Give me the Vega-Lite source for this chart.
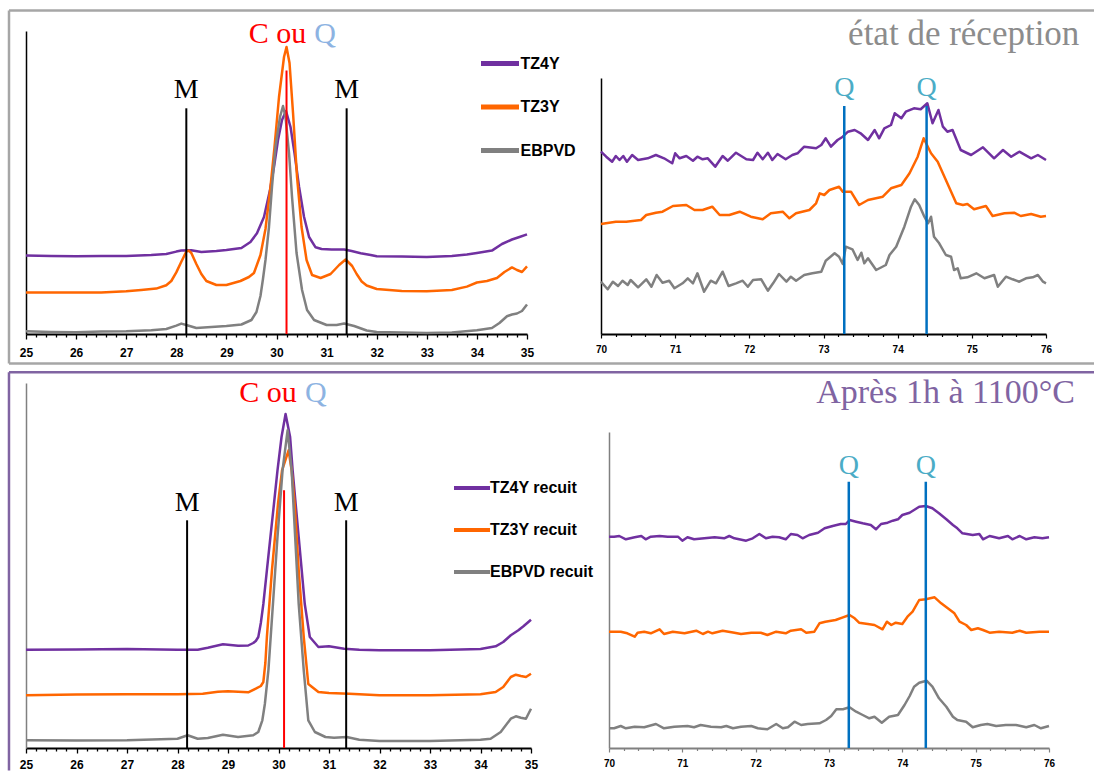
{
  "$schema": "https://vega.github.io/schema/vega-lite/v6.json",
  "background": "white",
  "padding": {"left": 7, "top": 9, "right": 0, "bottom": 0},
  "config": {"view": {"stroke": null}, "font": "Liberation Sans"},
  "columns": 2,
  "align": "each",
  "bounds": "flush",
  "spacing": {"row": 49, "column": 66},
  "resolve": {"scale": {"color": "independent"}, "legend": {"color": "independent"}},
  "datasets": {
    "box": [
      {"p": "T", "x": 24.6607, "x2": 46.327, "y": 323.5, "y2": 323.5},
      {"p": "T", "x": 24.6607, "x2": 24.6607, "y": 323.5, "y2": -29.5},
      {"p": "T", "x": 24.6607, "x2": 46.327, "y": -29.5, "y2": -29.5},
      {"p": "B", "x": 24.663, "x2": 46.158, "y": 375.7, "y2": 375.7},
      {"p": "B", "x": 24.663, "x2": 24.663, "y": 375.7, "y2": -22.5}
    ],
    "ann": [
      {"p": "TL", "k": "M", "x": 28.2, "y": 0, "y2": 225.7},
      {"p": "TL", "k": "M", "x": 31.4, "y": 0, "y2": 225.7},
      {"p": "TL", "k": "C", "x": 30.2, "y": 0, "y2": 263.5},
      {"p": "TR", "k": "Q", "x": 73.28, "y": 0, "y2": 228},
      {"p": "TR", "k": "Q", "x": 74.39, "y": 0, "y2": 228},
      {"p": "BL", "k": "M", "x": 28.19, "y": 0, "y2": 227.7},
      {"p": "BL", "k": "M", "x": 31.34, "y": 0, "y2": 227.7},
      {"p": "BL", "k": "C", "x": 30.11, "y": 0, "y2": 257.7},
      {"p": "BR", "k": "Q", "x": 73.27, "y": 0, "y2": 266.3},
      {"p": "BR", "k": "Q", "x": 74.32, "y": 0, "y2": 266.3}
    ],
    "labels": [
      {"p": "TL", "k": "M", "t": "M", "x": 28.2, "y": 244},
      {"p": "TL", "k": "M", "t": "M", "x": 31.4, "y": 244},
      {"p": "TL", "k": "C", "t": "C ou", "x": 30.02, "y": 300.4},
      {"p": "TL", "k": "Qc", "t": "Q", "x": 30.97, "y": 300.4},
      {"p": "TR", "k": "Q", "t": "Q", "x": 73.28, "y": 245.7},
      {"p": "TR", "k": "Q", "t": "Q", "x": 74.39, "y": 245.7},
      {"p": "TR", "k": "T", "t": "état de réception", "x": 76.45, "y": 300},
      {"p": "BL", "k": "M", "t": "M", "x": 28.19, "y": 244.7},
      {"p": "BL", "k": "M", "t": "M", "x": 31.34, "y": 244.7},
      {"p": "BL", "k": "C", "t": "C ou", "x": 29.79, "y": 355},
      {"p": "BL", "k": "Qc", "t": "Q", "x": 30.74, "y": 355},
      {"p": "BR", "k": "Q", "t": "Q", "x": 73.27, "y": 281.7},
      {"p": "BR", "k": "Q", "t": "Q", "x": 74.32, "y": 281.7},
      {"p": "BR", "k": "T", "t": "Après 1h à 1100°C", "x": 76.355, "y": 354.7}
    ],
    "tl": [
      {"s":"TZ4Y","x":25,"y":78.4},{"s":"TZ4Y","x":25.5,"y":78},{"s":"TZ4Y","x":26,"y":77.7},{"s":"TZ4Y","x":26.5,"y":78},{"s":"TZ4Y","x":27,"y":78},{"s":"TZ4Y","x":27.5,"y":79},{"s":"TZ4Y","x":27.8,"y":80},{"s":"TZ4Y","x":28,"y":82.4},{"s":"TZ4Y","x":28.1,"y":83.4},{"s":"TZ4Y","x":28.3,"y":83.7},{"s":"TZ4Y","x":28.5,"y":82},{"s":"TZ4Y","x":28.8,"y":83},{"s":"TZ4Y","x":29,"y":84},{"s":"TZ4Y","x":29.3,"y":86},{"s":"TZ4Y","x":29.48,"y":92},{"s":"TZ4Y","x":29.61,"y":100.7},{"s":"TZ4Y","x":29.75,"y":117},{"s":"TZ4Y","x":29.87,"y":144},{"s":"TZ4Y","x":29.95,"y":167},{"s":"TZ4Y","x":30.03,"y":194},{"s":"TZ4Y","x":30.11,"y":214},{"s":"TZ4Y","x":30.19,"y":223},{"s":"TZ4Y","x":30.28,"y":207},{"s":"TZ4Y","x":30.36,"y":180.7},{"s":"TZ4Y","x":30.45,"y":147.3},{"s":"TZ4Y","x":30.55,"y":117},{"s":"TZ4Y","x":30.65,"y":97},{"s":"TZ4Y","x":30.78,"y":86.7},{"s":"TZ4Y","x":30.9,"y":85},{"s":"TZ4Y","x":31.1,"y":84.5},{"s":"TZ4Y","x":31.35,"y":84.5},{"s":"TZ4Y","x":31.5,"y":83},{"s":"TZ4Y","x":31.68,"y":80.7},{"s":"TZ4Y","x":31.88,"y":79},{"s":"TZ4Y","x":32,"y":77.7},{"s":"TZ4Y","x":32.5,"y":77.5},{"s":"TZ4Y","x":33,"y":77},{"s":"TZ4Y","x":33.5,"y":78},{"s":"TZ4Y","x":33.8,"y":79.5},{"s":"TZ4Y","x":34,"y":81},{"s":"TZ4Y","x":34.3,"y":83.4},{"s":"TZ4Y","x":34.5,"y":90},{"s":"TZ4Y","x":34.7,"y":94.5},{"s":"TZ4Y","x":34.85,"y":97},{"s":"TZ4Y","x":35,"y":99.6},
      {"s":"TZ3Y","x":25,"y":41.4},{"s":"TZ3Y","x":25.5,"y":41.4},{"s":"TZ3Y","x":26,"y":41.5},{"s":"TZ3Y","x":26.5,"y":41.5},{"s":"TZ3Y","x":27,"y":42.7},{"s":"TZ3Y","x":27.3,"y":44},{"s":"TZ3Y","x":27.6,"y":45.4},{"s":"TZ3Y","x":27.8,"y":48.8},{"s":"TZ3Y","x":27.9,"y":53},{"s":"TZ3Y","x":28,"y":61.6},{"s":"TZ3Y","x":28.1,"y":72.3},{"s":"TZ3Y","x":28.2,"y":82.4},{"s":"TZ3Y","x":28.25,"y":83.4},{"s":"TZ3Y","x":28.3,"y":81},{"s":"TZ3Y","x":28.4,"y":70},{"s":"TZ3Y","x":28.5,"y":60},{"s":"TZ3Y","x":28.6,"y":53},{"s":"TZ3Y","x":28.8,"y":49},{"s":"TZ3Y","x":29,"y":49},{"s":"TZ3Y","x":29.28,"y":53},{"s":"TZ3Y","x":29.45,"y":57},{"s":"TZ3Y","x":29.55,"y":61},{"s":"TZ3Y","x":29.68,"y":79},{"s":"TZ3Y","x":29.78,"y":105},{"s":"TZ3Y","x":29.88,"y":147},{"s":"TZ3Y","x":29.96,"y":187},{"s":"TZ3Y","x":30.05,"y":237},{"s":"TZ3Y","x":30.15,"y":277},{"s":"TZ3Y","x":30.2,"y":287},{"s":"TZ3Y","x":30.26,"y":271},{"s":"TZ3Y","x":30.33,"y":221},{"s":"TZ3Y","x":30.41,"y":157},{"s":"TZ3Y","x":30.5,"y":107},{"s":"TZ3Y","x":30.6,"y":74},{"s":"TZ3Y","x":30.71,"y":59},{"s":"TZ3Y","x":30.88,"y":56},{"s":"TZ3Y","x":31.08,"y":60},{"s":"TZ3Y","x":31.25,"y":69},{"s":"TZ3Y","x":31.38,"y":74.5},{"s":"TZ3Y","x":31.51,"y":68},{"s":"TZ3Y","x":31.6,"y":60},{"s":"TZ3Y","x":31.7,"y":52.5},{"s":"TZ3Y","x":31.8,"y":48.5},{"s":"TZ3Y","x":32,"y":45},{"s":"TZ3Y","x":32.5,"y":43},{"s":"TZ3Y","x":33,"y":42.7},{"s":"TZ3Y","x":33.5,"y":44},{"s":"TZ3Y","x":33.8,"y":47.4},{"s":"TZ3Y","x":34,"y":51.5},{"s":"TZ3Y","x":34.2,"y":53},{"s":"TZ3Y","x":34.4,"y":56},{"s":"TZ3Y","x":34.55,"y":62},{"s":"TZ3Y","x":34.7,"y":66.6},{"s":"TZ3Y","x":34.8,"y":64},{"s":"TZ3Y","x":34.9,"y":62},{"s":"TZ3Y","x":35,"y":67.6},
      {"s":"EBPVD","x":25,"y":2.7},{"s":"EBPVD","x":25.5,"y":2},{"s":"EBPVD","x":26,"y":1.7},{"s":"EBPVD","x":26.5,"y":2.5},{"s":"EBPVD","x":27,"y":2.7},{"s":"EBPVD","x":27.5,"y":3.7},{"s":"EBPVD","x":27.8,"y":5},{"s":"EBPVD","x":28,"y":8.4},{"s":"EBPVD","x":28.1,"y":10.4},{"s":"EBPVD","x":28.2,"y":9},{"s":"EBPVD","x":28.4,"y":6},{"s":"EBPVD","x":28.7,"y":7},{"s":"EBPVD","x":29,"y":8},{"s":"EBPVD","x":29.3,"y":9.5},{"s":"EBPVD","x":29.5,"y":14},{"s":"EBPVD","x":29.6,"y":22},{"s":"EBPVD","x":29.68,"y":38},{"s":"EBPVD","x":29.73,"y":55},{"s":"EBPVD","x":29.78,"y":74},{"s":"EBPVD","x":29.85,"y":107},{"s":"EBPVD","x":29.91,"y":147},{"s":"EBPVD","x":29.98,"y":187},{"s":"EBPVD","x":30.07,"y":217},{"s":"EBPVD","x":30.13,"y":228},{"s":"EBPVD","x":30.18,"y":217},{"s":"EBPVD","x":30.25,"y":181},{"s":"EBPVD","x":30.31,"y":137},{"s":"EBPVD","x":30.4,"y":81},{"s":"EBPVD","x":30.51,"y":44},{"s":"EBPVD","x":30.61,"y":24},{"s":"EBPVD","x":30.75,"y":14},{"s":"EBPVD","x":31,"y":9},{"s":"EBPVD","x":31.2,"y":9},{"s":"EBPVD","x":31.35,"y":10.5},{"s":"EBPVD","x":31.55,"y":8},{"s":"EBPVD","x":31.8,"y":3.5},{"s":"EBPVD","x":32,"y":2},{"s":"EBPVD","x":32.5,"y":1.5},{"s":"EBPVD","x":33,"y":1},{"s":"EBPVD","x":33.5,"y":1.5},{"s":"EBPVD","x":34,"y":3.7},{"s":"EBPVD","x":34.3,"y":6},{"s":"EBPVD","x":34.45,"y":11},{"s":"EBPVD","x":34.6,"y":17.8},{"s":"EBPVD","x":34.7,"y":19.5},{"s":"EBPVD","x":34.8,"y":20.5},{"s":"EBPVD","x":34.9,"y":23},{"s":"EBPVD","x":35,"y":29.6}
    ],
    "tr": [
      {"s":"TZ4Y","x":70,"y":182.3},{"s":"TZ4Y","x":70.07,"y":177.3},{"s":"TZ4Y","x":70.15,"y":172.3},{"s":"TZ4Y","x":70.2,"y":178},{"s":"TZ4Y","x":70.25,"y":174},{"s":"TZ4Y","x":70.3,"y":178},{"s":"TZ4Y","x":70.35,"y":172.3},{"s":"TZ4Y","x":70.42,"y":179},{"s":"TZ4Y","x":70.5,"y":174},{"s":"TZ4Y","x":70.63,"y":175.7},{"s":"TZ4Y","x":70.74,"y":179},{"s":"TZ4Y","x":70.85,"y":175.7},{"s":"TZ4Y","x":70.96,"y":170.7},{"s":"TZ4Y","x":71,"y":180.7},{"s":"TZ4Y","x":71.06,"y":175.7},{"s":"TZ4Y","x":71.15,"y":178},{"s":"TZ4Y","x":71.24,"y":173.3},{"s":"TZ4Y","x":71.3,"y":177.3},{"s":"TZ4Y","x":71.37,"y":174.7},{"s":"TZ4Y","x":71.44,"y":175.7},{"s":"TZ4Y","x":71.54,"y":167.3},{"s":"TZ4Y","x":71.64,"y":178},{"s":"TZ4Y","x":71.71,"y":173.3},{"s":"TZ4Y","x":71.82,"y":181.3},{"s":"TZ4Y","x":71.96,"y":174.7},{"s":"TZ4Y","x":72.05,"y":174},{"s":"TZ4Y","x":72.11,"y":181.3},{"s":"TZ4Y","x":72.18,"y":174.7},{"s":"TZ4Y","x":72.25,"y":181.3},{"s":"TZ4Y","x":72.31,"y":174},{"s":"TZ4Y","x":72.38,"y":180},{"s":"TZ4Y","x":72.49,"y":174.7},{"s":"TZ4Y","x":72.58,"y":179},{"s":"TZ4Y","x":72.65,"y":180.7},{"s":"TZ4Y","x":72.74,"y":187.3},{"s":"TZ4Y","x":72.9,"y":185.7},{"s":"TZ4Y","x":72.97,"y":189},{"s":"TZ4Y","x":73.03,"y":195.7},{"s":"TZ4Y","x":73.1,"y":187.3},{"s":"TZ4Y","x":73.19,"y":194},{"s":"TZ4Y","x":73.26,"y":197.3},{"s":"TZ4Y","x":73.33,"y":202.3},{"s":"TZ4Y","x":73.42,"y":204},{"s":"TZ4Y","x":73.5,"y":200.7},{"s":"TZ4Y","x":73.6,"y":194},{"s":"TZ4Y","x":73.69,"y":204},{"s":"TZ4Y","x":73.75,"y":195.7},{"s":"TZ4Y","x":73.82,"y":205.7},{"s":"TZ4Y","x":73.91,"y":209},{"s":"TZ4Y","x":73.96,"y":220.7},{"s":"TZ4Y","x":74.05,"y":215.7},{"s":"TZ4Y","x":74.11,"y":222.3},{"s":"TZ4Y","x":74.22,"y":225.7},{"s":"TZ4Y","x":74.31,"y":224.7},{"s":"TZ4Y","x":74.4,"y":230.7},{"s":"TZ4Y","x":74.47,"y":210.7},{"s":"TZ4Y","x":74.55,"y":224},{"s":"TZ4Y","x":74.61,"y":207.3},{"s":"TZ4Y","x":74.67,"y":202.3},{"s":"TZ4Y","x":74.74,"y":204},{"s":"TZ4Y","x":74.85,"y":184},{"s":"TZ4Y","x":74.99,"y":179},{"s":"TZ4Y","x":75.15,"y":186.7},{"s":"TZ4Y","x":75.3,"y":175.7},{"s":"TZ4Y","x":75.42,"y":184},{"s":"TZ4Y","x":75.53,"y":177.3},{"s":"TZ4Y","x":75.64,"y":182.3},{"s":"TZ4Y","x":75.8,"y":175.7},{"s":"TZ4Y","x":75.89,"y":179},{"s":"TZ4Y","x":76,"y":174},
      {"s":"TZ3Y","x":70,"y":110},{"s":"TZ3Y","x":70.2,"y":112.3},{"s":"TZ3Y","x":70.34,"y":112.3},{"s":"TZ3Y","x":70.54,"y":114},{"s":"TZ3Y","x":70.61,"y":119},{"s":"TZ3Y","x":70.74,"y":121.3},{"s":"TZ3Y","x":70.83,"y":122.3},{"s":"TZ3Y","x":70.97,"y":128},{"s":"TZ3Y","x":71.15,"y":129},{"s":"TZ3Y","x":71.26,"y":124},{"s":"TZ3Y","x":71.37,"y":124},{"s":"TZ3Y","x":71.5,"y":127.3},{"s":"TZ3Y","x":71.6,"y":119},{"s":"TZ3Y","x":71.73,"y":119},{"s":"TZ3Y","x":71.87,"y":122.3},{"s":"TZ3Y","x":72.02,"y":117.3},{"s":"TZ3Y","x":72.18,"y":114.7},{"s":"TZ3Y","x":72.29,"y":120.7},{"s":"TZ3Y","x":72.45,"y":122.3},{"s":"TZ3Y","x":72.54,"y":115.7},{"s":"TZ3Y","x":72.63,"y":120.7},{"s":"TZ3Y","x":72.81,"y":124},{"s":"TZ3Y","x":72.9,"y":130.7},{"s":"TZ3Y","x":72.95,"y":140.7},{"s":"TZ3Y","x":73.01,"y":139},{"s":"TZ3Y","x":73.08,"y":144},{"s":"TZ3Y","x":73.21,"y":147.3},{"s":"TZ3Y","x":73.26,"y":142.3},{"s":"TZ3Y","x":73.37,"y":142.3},{"s":"TZ3Y","x":73.48,"y":129},{"s":"TZ3Y","x":73.6,"y":134},{"s":"TZ3Y","x":73.8,"y":137.3},{"s":"TZ3Y","x":73.91,"y":145.7},{"s":"TZ3Y","x":74.05,"y":149},{"s":"TZ3Y","x":74.16,"y":160.7},{"s":"TZ3Y","x":74.27,"y":177.3},{"s":"TZ3Y","x":74.35,"y":195.7},{"s":"TZ3Y","x":74.45,"y":180.7},{"s":"TZ3Y","x":74.54,"y":172.3},{"s":"TZ3Y","x":74.65,"y":154},{"s":"TZ3Y","x":74.79,"y":130.7},{"s":"TZ3Y","x":74.88,"y":129},{"s":"TZ3Y","x":74.94,"y":130},{"s":"TZ3Y","x":75.03,"y":124.7},{"s":"TZ3Y","x":75.19,"y":128},{"s":"TZ3Y","x":75.28,"y":118},{"s":"TZ3Y","x":75.44,"y":120.7},{"s":"TZ3Y","x":75.57,"y":121.3},{"s":"TZ3Y","x":75.66,"y":118},{"s":"TZ3Y","x":75.8,"y":120},{"s":"TZ3Y","x":75.93,"y":117.3},{"s":"TZ3Y","x":76,"y":118},
      {"s":"EBPVD","x":70,"y":52.3},{"s":"EBPVD","x":70.09,"y":44.7},{"s":"EBPVD","x":70.16,"y":52.3},{"s":"EBPVD","x":70.23,"y":48},{"s":"EBPVD","x":70.29,"y":53.3},{"s":"EBPVD","x":70.36,"y":49},{"s":"EBPVD","x":70.4,"y":54},{"s":"EBPVD","x":70.5,"y":46.7},{"s":"EBPVD","x":70.61,"y":54.7},{"s":"EBPVD","x":70.68,"y":47.3},{"s":"EBPVD","x":70.75,"y":59},{"s":"EBPVD","x":70.83,"y":51.3},{"s":"EBPVD","x":70.92,"y":53.3},{"s":"EBPVD","x":70.99,"y":45.7},{"s":"EBPVD","x":71.1,"y":50.7},{"s":"EBPVD","x":71.17,"y":55.7},{"s":"EBPVD","x":71.24,"y":50.7},{"s":"EBPVD","x":71.3,"y":60.7},{"s":"EBPVD","x":71.39,"y":42.3},{"s":"EBPVD","x":71.48,"y":53.3},{"s":"EBPVD","x":71.55,"y":50.7},{"s":"EBPVD","x":71.64,"y":62.3},{"s":"EBPVD","x":71.72,"y":48},{"s":"EBPVD","x":71.82,"y":50.7},{"s":"EBPVD","x":71.91,"y":53.3},{"s":"EBPVD","x":71.98,"y":47.3},{"s":"EBPVD","x":72.05,"y":54},{"s":"EBPVD","x":72.16,"y":54.7},{"s":"EBPVD","x":72.25,"y":43.3},{"s":"EBPVD","x":72.32,"y":50.7},{"s":"EBPVD","x":72.4,"y":60},{"s":"EBPVD","x":72.5,"y":52.3},{"s":"EBPVD","x":72.56,"y":57.3},{"s":"EBPVD","x":72.63,"y":53.3},{"s":"EBPVD","x":72.74,"y":59},{"s":"EBPVD","x":72.85,"y":60.7},{"s":"EBPVD","x":72.97,"y":62.3},{"s":"EBPVD","x":73.03,"y":73.3},{"s":"EBPVD","x":73.15,"y":80.7},{"s":"EBPVD","x":73.21,"y":77.3},{"s":"EBPVD","x":73.26,"y":70},{"s":"EBPVD","x":73.3,"y":87.3},{"s":"EBPVD","x":73.39,"y":84.7},{"s":"EBPVD","x":73.46,"y":74},{"s":"EBPVD","x":73.51,"y":81.3},{"s":"EBPVD","x":73.55,"y":70.7},{"s":"EBPVD","x":73.6,"y":75.7},{"s":"EBPVD","x":73.71,"y":64},{"s":"EBPVD","x":73.84,"y":69},{"s":"EBPVD","x":73.89,"y":79},{"s":"EBPVD","x":73.98,"y":87.3},{"s":"EBPVD","x":74.09,"y":107.3},{"s":"EBPVD","x":74.18,"y":127.3},{"s":"EBPVD","x":74.23,"y":134.7},{"s":"EBPVD","x":74.29,"y":129},{"s":"EBPVD","x":74.36,"y":117.3},{"s":"EBPVD","x":74.41,"y":110.7},{"s":"EBPVD","x":74.45,"y":117.3},{"s":"EBPVD","x":74.49,"y":97.3},{"s":"EBPVD","x":74.56,"y":90.7},{"s":"EBPVD","x":74.65,"y":79},{"s":"EBPVD","x":74.72,"y":77.3},{"s":"EBPVD","x":74.76,"y":64},{"s":"EBPVD","x":74.81,"y":65.7},{"s":"EBPVD","x":74.85,"y":55.7},{"s":"EBPVD","x":74.94,"y":56.7},{"s":"EBPVD","x":75.06,"y":60.7},{"s":"EBPVD","x":75.17,"y":55.7},{"s":"EBPVD","x":75.3,"y":59},{"s":"EBPVD","x":75.35,"y":47.3},{"s":"EBPVD","x":75.46,"y":57.3},{"s":"EBPVD","x":75.55,"y":54.7},{"s":"EBPVD","x":75.64,"y":52.3},{"s":"EBPVD","x":75.73,"y":55.7},{"s":"EBPVD","x":75.82,"y":56.7},{"s":"EBPVD","x":75.89,"y":59},{"s":"EBPVD","x":75.96,"y":52.3},{"s":"EBPVD","x":76,"y":50.7}
    ],
    "bl": [
      {"s":"TZ4Y recuit","x":25,"y":98.3},{"s":"TZ4Y recuit","x":26,"y":98.5},{"s":"TZ4Y recuit","x":27,"y":99},{"s":"TZ4Y recuit","x":28,"y":98.3},{"s":"TZ4Y recuit","x":28.4,"y":98.3},{"s":"TZ4Y recuit","x":28.6,"y":100.3},{"s":"TZ4Y recuit","x":28.9,"y":103.7},{"s":"TZ4Y recuit","x":29.2,"y":102.3},{"s":"TZ4Y recuit","x":29.4,"y":102.5},{"s":"TZ4Y recuit","x":29.5,"y":105},{"s":"TZ4Y recuit","x":29.55,"y":107},{"s":"TZ4Y recuit","x":29.6,"y":111},{"s":"TZ4Y recuit","x":29.65,"y":125},{"s":"TZ4Y recuit","x":29.7,"y":144},{"s":"TZ4Y recuit","x":29.77,"y":177.7},{"s":"TZ4Y recuit","x":29.84,"y":211},{"s":"TZ4Y recuit","x":29.91,"y":244},{"s":"TZ4Y recuit","x":29.98,"y":277.7},{"s":"TZ4Y recuit","x":30.06,"y":311},{"s":"TZ4Y recuit","x":30.14,"y":334},{"s":"TZ4Y recuit","x":30.23,"y":311},{"s":"TZ4Y recuit","x":30.28,"y":277.7},{"s":"TZ4Y recuit","x":30.34,"y":244},{"s":"TZ4Y recuit","x":30.4,"y":211},{"s":"TZ4Y recuit","x":30.46,"y":177.7},{"s":"TZ4Y recuit","x":30.52,"y":144},{"s":"TZ4Y recuit","x":30.62,"y":111},{"s":"TZ4Y recuit","x":30.79,"y":101},{"s":"TZ4Y recuit","x":31,"y":101.7},{"s":"TZ4Y recuit","x":31.3,"y":99.3},{"s":"TZ4Y recuit","x":31.6,"y":98.3},{"s":"TZ4Y recuit","x":32,"y":97.7},{"s":"TZ4Y recuit","x":33,"y":97.7},{"s":"TZ4Y recuit","x":34,"y":99},{"s":"TZ4Y recuit","x":34.3,"y":101.7},{"s":"TZ4Y recuit","x":34.45,"y":106},{"s":"TZ4Y recuit","x":34.6,"y":112.7},{"s":"TZ4Y recuit","x":34.75,"y":117.7},{"s":"TZ4Y recuit","x":34.85,"y":121.7},{"s":"TZ4Y recuit","x":35,"y":128.3},
      {"s":"TZ3Y recuit","x":25,"y":52.7},{"s":"TZ3Y recuit","x":26,"y":53.5},{"s":"TZ3Y recuit","x":27,"y":53.7},{"s":"TZ3Y recuit","x":28,"y":53.7},{"s":"TZ3Y recuit","x":28.5,"y":54.3},{"s":"TZ3Y recuit","x":28.8,"y":56.3},{"s":"TZ3Y recuit","x":29,"y":56.7},{"s":"TZ3Y recuit","x":29.4,"y":55.7},{"s":"TZ3Y recuit","x":29.55,"y":59.3},{"s":"TZ3Y recuit","x":29.65,"y":62},{"s":"TZ3Y recuit","x":29.7,"y":66},{"s":"TZ3Y recuit","x":29.74,"y":85},{"s":"TZ3Y recuit","x":29.77,"y":111},{"s":"TZ3Y recuit","x":29.87,"y":177.7},{"s":"TZ3Y recuit","x":29.99,"y":244},{"s":"TZ3Y recuit","x":30.07,"y":277.7},{"s":"TZ3Y recuit","x":30.2,"y":297.7},{"s":"TZ3Y recuit","x":30.26,"y":277.7},{"s":"TZ3Y recuit","x":30.32,"y":244},{"s":"TZ3Y recuit","x":30.4,"y":177.7},{"s":"TZ3Y recuit","x":30.5,"y":111},{"s":"TZ3Y recuit","x":30.59,"y":64},{"s":"TZ3Y recuit","x":30.79,"y":56},{"s":"TZ3Y recuit","x":31,"y":55},{"s":"TZ3Y recuit","x":31.4,"y":54.3},{"s":"TZ3Y recuit","x":32,"y":52.7},{"s":"TZ3Y recuit","x":33,"y":52.7},{"s":"TZ3Y recuit","x":34,"y":53.7},{"s":"TZ3Y recuit","x":34.3,"y":56},{"s":"TZ3Y recuit","x":34.45,"y":61},{"s":"TZ3Y recuit","x":34.6,"y":71},{"s":"TZ3Y recuit","x":34.7,"y":73.3},{"s":"TZ3Y recuit","x":34.8,"y":72},{"s":"TZ3Y recuit","x":34.9,"y":71},{"s":"TZ3Y recuit","x":35,"y":74.3},
      {"s":"EBPVD recuit","x":25,"y":7.7},{"s":"EBPVD recuit","x":26,"y":7.5},{"s":"EBPVD recuit","x":27,"y":7.7},{"s":"EBPVD recuit","x":28,"y":9.3},{"s":"EBPVD recuit","x":28.2,"y":12.7},{"s":"EBPVD recuit","x":28.4,"y":9.3},{"s":"EBPVD recuit","x":28.6,"y":10},{"s":"EBPVD recuit","x":28.9,"y":13.3},{"s":"EBPVD recuit","x":29.2,"y":11},{"s":"EBPVD recuit","x":29.5,"y":12.7},{"s":"EBPVD recuit","x":29.6,"y":16},{"s":"EBPVD recuit","x":29.68,"y":27.7},{"s":"EBPVD recuit","x":29.73,"y":44},{"s":"EBPVD recuit","x":29.8,"y":77.7},{"s":"EBPVD recuit","x":29.89,"y":144},{"s":"EBPVD recuit","x":29.98,"y":211},{"s":"EBPVD recuit","x":30.08,"y":277.7},{"s":"EBPVD recuit","x":30.18,"y":317.7},{"s":"EBPVD recuit","x":30.26,"y":277.7},{"s":"EBPVD recuit","x":30.33,"y":211},{"s":"EBPVD recuit","x":30.4,"y":144},{"s":"EBPVD recuit","x":30.5,"y":77.7},{"s":"EBPVD recuit","x":30.59,"y":27.7},{"s":"EBPVD recuit","x":30.72,"y":16},{"s":"EBPVD recuit","x":30.93,"y":11},{"s":"EBPVD recuit","x":31.1,"y":10.3},{"s":"EBPVD recuit","x":31.35,"y":11},{"s":"EBPVD recuit","x":31.6,"y":8.3},{"s":"EBPVD recuit","x":32,"y":7},{"s":"EBPVD recuit","x":33,"y":7},{"s":"EBPVD recuit","x":34,"y":8.3},{"s":"EBPVD recuit","x":34.2,"y":9.3},{"s":"EBPVD recuit","x":34.4,"y":16},{"s":"EBPVD recuit","x":34.6,"y":29.3},{"s":"EBPVD recuit","x":34.7,"y":31.7},{"s":"EBPVD recuit","x":34.8,"y":30.3},{"s":"EBPVD recuit","x":34.9,"y":29.3},{"s":"EBPVD recuit","x":35,"y":39.3}
    ],
    "br": [
      {"s":"TZ4Y recuit","x":70,"y":211.3},{"s":"TZ4Y recuit","x":70.07,"y":211.3},{"s":"TZ4Y recuit","x":70.14,"y":212},{"s":"TZ4Y recuit","x":70.23,"y":208.7},{"s":"TZ4Y recuit","x":70.35,"y":210.7},{"s":"TZ4Y recuit","x":70.44,"y":212},{"s":"TZ4Y recuit","x":70.5,"y":208.7},{"s":"TZ4Y recuit","x":70.57,"y":211.3},{"s":"TZ4Y recuit","x":70.69,"y":212},{"s":"TZ4Y recuit","x":70.8,"y":211.3},{"s":"TZ4Y recuit","x":70.94,"y":211.3},{"s":"TZ4Y recuit","x":71,"y":207.3},{"s":"TZ4Y recuit","x":71.07,"y":210.7},{"s":"TZ4Y recuit","x":71.16,"y":208.7},{"s":"TZ4Y recuit","x":71.3,"y":209.7},{"s":"TZ4Y recuit","x":71.44,"y":210.7},{"s":"TZ4Y recuit","x":71.57,"y":209.7},{"s":"TZ4Y recuit","x":71.64,"y":212},{"s":"TZ4Y recuit","x":71.71,"y":209.7},{"s":"TZ4Y recuit","x":71.87,"y":207.3},{"s":"TZ4Y recuit","x":71.96,"y":209.7},{"s":"TZ4Y recuit","x":72.05,"y":214},{"s":"TZ4Y recuit","x":72.14,"y":209.7},{"s":"TZ4Y recuit","x":72.23,"y":211.3},{"s":"TZ4Y recuit","x":72.32,"y":210.7},{"s":"TZ4Y recuit","x":72.41,"y":208.7},{"s":"TZ4Y recuit","x":72.48,"y":214},{"s":"TZ4Y recuit","x":72.57,"y":213},{"s":"TZ4Y recuit","x":72.64,"y":209.7},{"s":"TZ4Y recuit","x":72.73,"y":213},{"s":"TZ4Y recuit","x":72.85,"y":215.3},{"s":"TZ4Y recuit","x":72.94,"y":219.7},{"s":"TZ4Y recuit","x":73.05,"y":222},{"s":"TZ4Y recuit","x":73.16,"y":224},{"s":"TZ4Y recuit","x":73.23,"y":224},{"s":"TZ4Y recuit","x":73.28,"y":228},{"s":"TZ4Y recuit","x":73.37,"y":226.3},{"s":"TZ4Y recuit","x":73.46,"y":224.7},{"s":"TZ4Y recuit","x":73.57,"y":223},{"s":"TZ4Y recuit","x":73.64,"y":218.7},{"s":"TZ4Y recuit","x":73.71,"y":224},{"s":"TZ4Y recuit","x":73.8,"y":225.3},{"s":"TZ4Y recuit","x":73.87,"y":227.3},{"s":"TZ4Y recuit","x":73.94,"y":228.7},{"s":"TZ4Y recuit","x":74,"y":233},{"s":"TZ4Y recuit","x":74.1,"y":235.3},{"s":"TZ4Y recuit","x":74.16,"y":238},{"s":"TZ4Y recuit","x":74.23,"y":241.3},{"s":"TZ4Y recuit","x":74.32,"y":242},{"s":"TZ4Y recuit","x":74.41,"y":239.7},{"s":"TZ4Y recuit","x":74.5,"y":234.7},{"s":"TZ4Y recuit","x":74.6,"y":228.7},{"s":"TZ4Y recuit","x":74.69,"y":223},{"s":"TZ4Y recuit","x":74.75,"y":219.7},{"s":"TZ4Y recuit","x":74.82,"y":214.7},{"s":"TZ4Y recuit","x":74.96,"y":213},{"s":"TZ4Y recuit","x":75.05,"y":214},{"s":"TZ4Y recuit","x":75.1,"y":208.7},{"s":"TZ4Y recuit","x":75.19,"y":212},{"s":"TZ4Y recuit","x":75.32,"y":209.7},{"s":"TZ4Y recuit","x":75.44,"y":212},{"s":"TZ4Y recuit","x":75.5,"y":208.7},{"s":"TZ4Y recuit","x":75.6,"y":212},{"s":"TZ4Y recuit","x":75.69,"y":208.7},{"s":"TZ4Y recuit","x":75.8,"y":210.7},{"s":"TZ4Y recuit","x":75.91,"y":209.7},{"s":"TZ4Y recuit","x":76,"y":210.7},
      {"s":"TZ3Y recuit","x":70,"y":116.3},{"s":"TZ3Y recuit","x":70.16,"y":116.3},{"s":"TZ3Y recuit","x":70.25,"y":114.7},{"s":"TZ3Y recuit","x":70.35,"y":111.3},{"s":"TZ3Y recuit","x":70.39,"y":115.3},{"s":"TZ3Y recuit","x":70.48,"y":116.3},{"s":"TZ3Y recuit","x":70.57,"y":114.7},{"s":"TZ3Y recuit","x":70.69,"y":118.7},{"s":"TZ3Y recuit","x":70.75,"y":114},{"s":"TZ3Y recuit","x":70.87,"y":116.3},{"s":"TZ3Y recuit","x":71.03,"y":114.7},{"s":"TZ3Y recuit","x":71.19,"y":117.3},{"s":"TZ3Y recuit","x":71.28,"y":114},{"s":"TZ3Y recuit","x":71.35,"y":116.3},{"s":"TZ3Y recuit","x":71.41,"y":114.7},{"s":"TZ3Y recuit","x":71.55,"y":117.3},{"s":"TZ3Y recuit","x":71.71,"y":115.3},{"s":"TZ3Y recuit","x":71.8,"y":114},{"s":"TZ3Y recuit","x":71.94,"y":115.3},{"s":"TZ3Y recuit","x":72.07,"y":115.3},{"s":"TZ3Y recuit","x":72.16,"y":113},{"s":"TZ3Y recuit","x":72.28,"y":116.3},{"s":"TZ3Y recuit","x":72.41,"y":114.7},{"s":"TZ3Y recuit","x":72.48,"y":117.3},{"s":"TZ3Y recuit","x":72.62,"y":118.7},{"s":"TZ3Y recuit","x":72.69,"y":115.3},{"s":"TZ3Y recuit","x":72.8,"y":116.3},{"s":"TZ3Y recuit","x":72.87,"y":124.7},{"s":"TZ3Y recuit","x":72.95,"y":126.3},{"s":"TZ3Y recuit","x":73.09,"y":128},{"s":"TZ3Y recuit","x":73.19,"y":130.7},{"s":"TZ3Y recuit","x":73.28,"y":133},{"s":"TZ3Y recuit","x":73.35,"y":129.7},{"s":"TZ3Y recuit","x":73.41,"y":125.3},{"s":"TZ3Y recuit","x":73.53,"y":124},{"s":"TZ3Y recuit","x":73.62,"y":123},{"s":"TZ3Y recuit","x":73.73,"y":118.7},{"s":"TZ3Y recuit","x":73.79,"y":126.3},{"s":"TZ3Y recuit","x":73.85,"y":123},{"s":"TZ3Y recuit","x":73.91,"y":125.3},{"s":"TZ3Y recuit","x":74,"y":124},{"s":"TZ3Y recuit","x":74.07,"y":131.3},{"s":"TZ3Y recuit","x":74.14,"y":136.3},{"s":"TZ3Y recuit","x":74.23,"y":148},{"s":"TZ3Y recuit","x":74.32,"y":148.7},{"s":"TZ3Y recuit","x":74.44,"y":150.7},{"s":"TZ3Y recuit","x":74.53,"y":144.7},{"s":"TZ3Y recuit","x":74.62,"y":139.7},{"s":"TZ3Y recuit","x":74.71,"y":134.7},{"s":"TZ3Y recuit","x":74.78,"y":126.3},{"s":"TZ3Y recuit","x":74.87,"y":123},{"s":"TZ3Y recuit","x":74.94,"y":118},{"s":"TZ3Y recuit","x":75.03,"y":119.7},{"s":"TZ3Y recuit","x":75.1,"y":118},{"s":"TZ3Y recuit","x":75.19,"y":115.3},{"s":"TZ3Y recuit","x":75.32,"y":116.3},{"s":"TZ3Y recuit","x":75.5,"y":115.3},{"s":"TZ3Y recuit","x":75.6,"y":117.3},{"s":"TZ3Y recuit","x":75.69,"y":115.3},{"s":"TZ3Y recuit","x":75.87,"y":116.3},{"s":"TZ3Y recuit","x":76,"y":116.3},
      {"s":"EBPVD recuit","x":70,"y":19.7},{"s":"EBPVD recuit","x":70.07,"y":19.7},{"s":"EBPVD recuit","x":70.16,"y":22},{"s":"EBPVD recuit","x":70.23,"y":19.7},{"s":"EBPVD recuit","x":70.35,"y":21.3},{"s":"EBPVD recuit","x":70.48,"y":20.7},{"s":"EBPVD recuit","x":70.64,"y":24},{"s":"EBPVD recuit","x":70.75,"y":19.7},{"s":"EBPVD recuit","x":70.89,"y":21.3},{"s":"EBPVD recuit","x":71.07,"y":22},{"s":"EBPVD recuit","x":71.16,"y":20.7},{"s":"EBPVD recuit","x":71.25,"y":23},{"s":"EBPVD recuit","x":71.39,"y":21.3},{"s":"EBPVD recuit","x":71.53,"y":20.7},{"s":"EBPVD recuit","x":71.6,"y":22},{"s":"EBPVD recuit","x":71.69,"y":19.7},{"s":"EBPVD recuit","x":71.8,"y":21.3},{"s":"EBPVD recuit","x":71.94,"y":22},{"s":"EBPVD recuit","x":72.03,"y":19.7},{"s":"EBPVD recuit","x":72.16,"y":18.7},{"s":"EBPVD recuit","x":72.28,"y":24},{"s":"EBPVD recuit","x":72.37,"y":19.7},{"s":"EBPVD recuit","x":72.44,"y":20.7},{"s":"EBPVD recuit","x":72.53,"y":26.3},{"s":"EBPVD recuit","x":72.62,"y":23},{"s":"EBPVD recuit","x":72.71,"y":24},{"s":"EBPVD recuit","x":72.87,"y":24.7},{"s":"EBPVD recuit","x":72.96,"y":28},{"s":"EBPVD recuit","x":73.03,"y":32},{"s":"EBPVD recuit","x":73.1,"y":38.7},{"s":"EBPVD recuit","x":73.19,"y":38.7},{"s":"EBPVD recuit","x":73.28,"y":40.7},{"s":"EBPVD recuit","x":73.37,"y":36.3},{"s":"EBPVD recuit","x":73.46,"y":33},{"s":"EBPVD recuit","x":73.55,"y":29.7},{"s":"EBPVD recuit","x":73.62,"y":31.3},{"s":"EBPVD recuit","x":73.72,"y":25.3},{"s":"EBPVD recuit","x":73.82,"y":31.3},{"s":"EBPVD recuit","x":73.94,"y":33},{"s":"EBPVD recuit","x":74.03,"y":43},{"s":"EBPVD recuit","x":74.1,"y":52},{"s":"EBPVD recuit","x":74.16,"y":61.3},{"s":"EBPVD recuit","x":74.23,"y":65.3},{"s":"EBPVD recuit","x":74.33,"y":67.3},{"s":"EBPVD recuit","x":74.41,"y":61.3},{"s":"EBPVD recuit","x":74.5,"y":49.7},{"s":"EBPVD recuit","x":74.6,"y":41.3},{"s":"EBPVD recuit","x":74.69,"y":31.3},{"s":"EBPVD recuit","x":74.75,"y":28},{"s":"EBPVD recuit","x":74.87,"y":26.3},{"s":"EBPVD recuit","x":74.96,"y":20.7},{"s":"EBPVD recuit","x":75.07,"y":23},{"s":"EBPVD recuit","x":75.16,"y":24},{"s":"EBPVD recuit","x":75.28,"y":22},{"s":"EBPVD recuit","x":75.41,"y":23},{"s":"EBPVD recuit","x":75.55,"y":23},{"s":"EBPVD recuit","x":75.69,"y":20.7},{"s":"EBPVD recuit","x":75.8,"y":23},{"s":"EBPVD recuit","x":75.89,"y":19.7},{"s":"EBPVD recuit","x":76,"y":22}
    ]
  },
  "concat": [
    {
      "width": 501, "height": 303,
      "encoding": {
        "x": {"field": "x", "type": "quantitative", "scale": {"domain": [25, 35], "nice": false, "zero": false},
          "axis": {"title": null, "grid": false,
            "values": [25,25.2,25.4,25.6,25.8,26,26.2,26.4,26.6,26.8,27,27.2,27.4,27.6,27.8,28,28.2,28.4,28.6,28.8,29,29.2,29.4,29.6,29.8,30,30.2,30.4,30.6,30.8,31,31.2,31.4,31.6,31.8,32,32.2,32.4,32.6,32.8,33,33.2,33.4,33.6,33.8,34,34.2,34.4,34.6,34.8,35],
            "labelExpr": "datum.value % 1 === 0 ? '' + datum.value : ''",
            "tickSize": {"condition": {"test": "datum.value % 1 === 0", "value": 5}, "value": 3},
            "labelFont": "Liberation Sans", "labelFontWeight": "bold", "labelFontSize": 12, "labelColor": "black",
            "labelPadding": 8, "labelOverlap": false, "labelFlush": false, "labelBound": false,
            "domainColor": "black", "domainWidth": 2, "tickColor": "black", "tickWidth": 1.3}},
        "y": {"field": "y", "type": "quantitative", "scale": {"domain": [0, 303], "nice": false, "zero": false},
          "axis": {"title": null, "labels": false, "ticks": false, "grid": false, "domainColor": "black", "domainWidth": 1.5}}
      },
      "layer": [
        {"data": {"name": "box"}, "transform": [{"filter": "datum.p === 'T'"}],
         "mark": {"type": "rule", "color": "#a6a6a6", "strokeWidth": 2.5},
         "encoding": {"x2": {"field": "x2"}, "y2": {"field": "y2"}}},
        {"data": {"name": "tl"},
         "mark": {"type": "line", "strokeWidth": 2.5, "strokeJoin": "round"},
         "encoding": {"color": {"field": "s", "type": "nominal",
           "scale": {"domain": ["TZ4Y", "TZ3Y", "EBPVD"], "range": ["#7030a0", "#ff6600", "#808080"]},
           "legend": {"orient": "none", "legendX": 452.5, "legendY": 11, "title": null, "symbolType": "stroke",
             "symbolSize": 1444, "symbolStrokeWidth": 5, "labelFont": "Liberation Sans", "labelFontWeight": "bold",
             "labelFontSize": 16, "labelColor": "black", "labelOffset": -1, "rowPadding": 11.5, "padding": 0}}}},
        {"data": {"name": "ann"}, "transform": [{"filter": "datum.p === 'TL' && datum.k === 'M'"}],
         "mark": {"type": "rule", "color": "black", "strokeWidth": 2}, "encoding": {"y2": {"field": "y2"}}},
        {"data": {"name": "ann"}, "transform": [{"filter": "datum.p === 'TL' && datum.k === 'C'"}],
         "mark": {"type": "rule", "color": "#ff0000", "strokeWidth": 2}, "encoding": {"y2": {"field": "y2"}}},
        {"data": {"name": "labels"}, "transform": [{"filter": "datum.p === 'TL' && datum.k === 'M'"}],
         "mark": {"type": "text", "font": "Liberation Serif", "fontSize": 28, "color": "black", "baseline": "middle", "align": "center"},
         "encoding": {"text": {"field": "t"}}},
        {"data": {"name": "labels"}, "transform": [{"filter": "datum.p === 'TL' && datum.k === 'C'"}],
         "mark": {"type": "text", "font": "Liberation Serif", "fontSize": 30, "color": "#ff0000", "baseline": "middle", "align": "center"},
         "encoding": {"text": {"field": "t"}}},
        {"data": {"name": "labels"}, "transform": [{"filter": "datum.p === 'TL' && datum.k === 'Qc'"}],
         "mark": {"type": "text", "font": "Liberation Serif", "fontSize": 30, "color": "#8db3e2", "baseline": "middle", "align": "center"},
         "encoding": {"text": {"field": "t"}}}
      ]
    },
    {
      "width": 445, "height": 303,
      "encoding": {
        "x": {"field": "x", "type": "quantitative", "scale": {"domain": [70, 76], "nice": false, "zero": false},
          "axis": {"title": null, "grid": false,
            "values": [70,70.2,70.4,70.6,70.8,71,71.2,71.4,71.6,71.8,72,72.2,72.4,72.6,72.8,73,73.2,73.4,73.6,73.8,74,74.2,74.4,74.6,74.8,75,75.2,75.4,75.6,75.8,76],
            "labelExpr": "datum.value % 1 === 0 ? '' + datum.value : ''",
            "tickSize": {"condition": {"test": "datum.value % 1 === 0", "value": 4}, "value": 2.5},
            "labelFont": "Liberation Sans", "labelFontWeight": "bold", "labelFontSize": 10, "labelColor": "black",
            "labelPadding": 6, "labelOverlap": false, "labelFlush": false, "labelBound": false,
            "domainColor": "black", "domainWidth": 2, "tickColor": "black", "tickWidth": 1.2}},
        "y": {"field": "y", "type": "quantitative", "scale": {"domain": [0, 256], "range": [303, 47], "nice": false, "zero": false},
          "axis": {"title": null, "labels": false, "ticks": false, "grid": false, "domainColor": "black", "domainWidth": 1.5}}
      },
      "layer": [
        {"data": {"name": "tr"},
         "mark": {"type": "line", "strokeWidth": 2.5, "strokeJoin": "round"},
         "encoding": {"color": {"field": "s", "type": "nominal",
           "scale": {"domain": ["TZ4Y", "TZ3Y", "EBPVD"], "range": ["#7030a0", "#ff6600", "#808080"]}, "legend": null}}},
        {"data": {"name": "ann"}, "transform": [{"filter": "datum.p === 'TR'"}],
         "mark": {"type": "rule", "color": "#0070c0", "strokeWidth": 2.5}, "encoding": {"y2": {"field": "y2"}}},
        {"data": {"name": "labels"}, "transform": [{"filter": "datum.p === 'TR' && datum.k === 'Q'"}],
         "mark": {"type": "text", "font": "Liberation Serif", "fontSize": 28, "color": "#4bacc6", "baseline": "middle", "align": "center"},
         "encoding": {"text": {"field": "t"}}},
        {"data": {"name": "labels"}, "transform": [{"filter": "datum.p === 'TR' && datum.k === 'T'"}],
         "mark": {"type": "text", "font": "Liberation Serif", "fontSize": 35, "color": "#8c8c8c", "baseline": "middle", "align": "right"},
         "encoding": {"text": {"field": "t"}}}
      ]
    },
    {
      "width": 509, "height": 365,
      "encoding": {
        "x": {"field": "x", "type": "quantitative", "scale": {"domain": [25, 35], "range": [0, 505], "nice": false, "zero": false},
          "axis": {"title": null, "grid": false,
            "values": [25,25.2,25.4,25.6,25.8,26,26.2,26.4,26.6,26.8,27,27.2,27.4,27.6,27.8,28,28.2,28.4,28.6,28.8,29,29.2,29.4,29.6,29.8,30,30.2,30.4,30.6,30.8,31,31.2,31.4,31.6,31.8,32,32.2,32.4,32.6,32.8,33,33.2,33.4,33.6,33.8,34,34.2,34.4,34.6,34.8,35],
            "labelExpr": "datum.value % 1 === 0 ? '' + datum.value : ''",
            "tickSize": {"condition": {"test": "datum.value % 1 === 0", "value": 5}, "value": 3},
            "labelFont": "Liberation Sans", "labelFontWeight": "bold", "labelFontSize": 12, "labelColor": "black",
            "labelPadding": 6, "labelOverlap": false, "labelFlush": false, "labelBound": false,
            "domainColor": "black", "domainWidth": 2, "tickColor": "black", "tickWidth": 1.3}},
        "y": {"field": "y", "type": "quantitative", "scale": {"domain": [0, 365], "nice": false, "zero": false},
          "axis": {"title": null, "labels": false, "ticks": false, "grid": false, "domainColor": "#808080", "domainWidth": 1.5}}
      },
      "layer": [
        {"data": {"name": "box"}, "transform": [{"filter": "datum.p === 'B'"}],
         "mark": {"type": "rule", "color": "#8064a2", "strokeWidth": 2.5},
         "encoding": {"x2": {"field": "x2"}, "y2": {"field": "y2"}}},
        {"data": {"name": "bl"},
         "mark": {"type": "line", "strokeWidth": 2.5, "strokeJoin": "round"},
         "encoding": {"color": {"field": "s", "type": "nominal",
           "scale": {"domain": ["TZ4Y recuit", "TZ3Y recuit", "EBPVD recuit"], "range": ["#7030a0", "#ff6600", "#808080"]},
           "legend": {"orient": "none", "legendX": 426, "legendY": 85, "title": null, "symbolType": "stroke",
             "symbolSize": 1296, "symbolStrokeWidth": 4, "labelFont": "Liberation Sans", "labelFontWeight": "bold",
             "labelFontSize": 16, "labelColor": "black", "labelOffset": -2, "rowPadding": 14, "padding": 0}}}},
        {"data": {"name": "ann"}, "transform": [{"filter": "datum.p === 'BL' && datum.k === 'M'"}],
         "mark": {"type": "rule", "color": "black", "strokeWidth": 2}, "encoding": {"y2": {"field": "y2"}}},
        {"data": {"name": "ann"}, "transform": [{"filter": "datum.p === 'BL' && datum.k === 'C'"}],
         "mark": {"type": "rule", "color": "#ff0000", "strokeWidth": 2}, "encoding": {"y2": {"field": "y2"}}},
        {"data": {"name": "labels"}, "transform": [{"filter": "datum.p === 'BL' && datum.k === 'M'"}],
         "mark": {"type": "text", "font": "Liberation Serif", "fontSize": 28, "color": "black", "baseline": "middle", "align": "center"},
         "encoding": {"text": {"field": "t"}}},
        {"data": {"name": "labels"}, "transform": [{"filter": "datum.p === 'BL' && datum.k === 'C'"}],
         "mark": {"type": "text", "font": "Liberation Serif", "fontSize": 30, "color": "#ff0000", "baseline": "middle", "align": "center"},
         "encoding": {"text": {"field": "t"}}},
        {"data": {"name": "labels"}, "transform": [{"filter": "datum.p === 'BL' && datum.k === 'Qc'"}],
         "mark": {"type": "text", "font": "Liberation Serif", "fontSize": 30, "color": "#8db3e2", "baseline": "middle", "align": "center"},
         "encoding": {"text": {"field": "t"}}}
      ]
    },
    {
      "width": 448, "height": 365,
      "encoding": {
        "x": {"field": "x", "type": "quantitative", "scale": {"domain": [70, 76], "range": [8, 448], "nice": false, "zero": false},
          "axis": {"title": null, "grid": false,
            "values": [70,70.2,70.4,70.6,70.8,71,71.2,71.4,71.6,71.8,72,72.2,72.4,72.6,72.8,73,73.2,73.4,73.6,73.8,74,74.2,74.4,74.6,74.8,75,75.2,75.4,75.6,75.8,76],
            "labelExpr": "datum.value % 1 === 0 ? '' + datum.value : ''",
            "tickSize": {"condition": {"test": "datum.value % 1 === 0", "value": 4}, "value": 2.5},
            "labelFont": "Liberation Sans", "labelFontWeight": "bold", "labelFontSize": 10, "labelColor": "black",
            "labelPadding": 6, "labelOverlap": false, "labelFlush": false, "labelBound": false,
            "domainColor": "#808080", "domainWidth": 2, "tickColor": "#808080", "tickWidth": 1.2}},
        "y": {"field": "y", "type": "quantitative", "scale": {"domain": [0, 316], "range": [365, 49], "nice": false, "zero": false},
          "axis": {"title": null, "labels": false, "ticks": false, "grid": false, "offset": -8, "domainColor": "#808080", "domainWidth": 1.5}}
      },
      "layer": [
        {"data": {"name": "br"},
         "mark": {"type": "line", "strokeWidth": 2.5, "strokeJoin": "round"},
         "encoding": {"color": {"field": "s", "type": "nominal",
           "scale": {"domain": ["TZ4Y recuit", "TZ3Y recuit", "EBPVD recuit"], "range": ["#7030a0", "#ff6600", "#808080"]}, "legend": null}}},
        {"data": {"name": "ann"}, "transform": [{"filter": "datum.p === 'BR'"}],
         "mark": {"type": "rule", "color": "#0070c0", "strokeWidth": 2.5}, "encoding": {"y2": {"field": "y2"}}},
        {"data": {"name": "labels"}, "transform": [{"filter": "datum.p === 'BR' && datum.k === 'Q'"}],
         "mark": {"type": "text", "font": "Liberation Serif", "fontSize": 28, "color": "#4bacc6", "baseline": "middle", "align": "center"},
         "encoding": {"text": {"field": "t"}}},
        {"data": {"name": "labels"}, "transform": [{"filter": "datum.p === 'BR' && datum.k === 'T'"}],
         "mark": {"type": "text", "font": "Liberation Serif", "fontSize": 34, "color": "#8064a2", "baseline": "middle", "align": "right"},
         "encoding": {"text": {"field": "t"}}}
      ]
    }
  ]
}
